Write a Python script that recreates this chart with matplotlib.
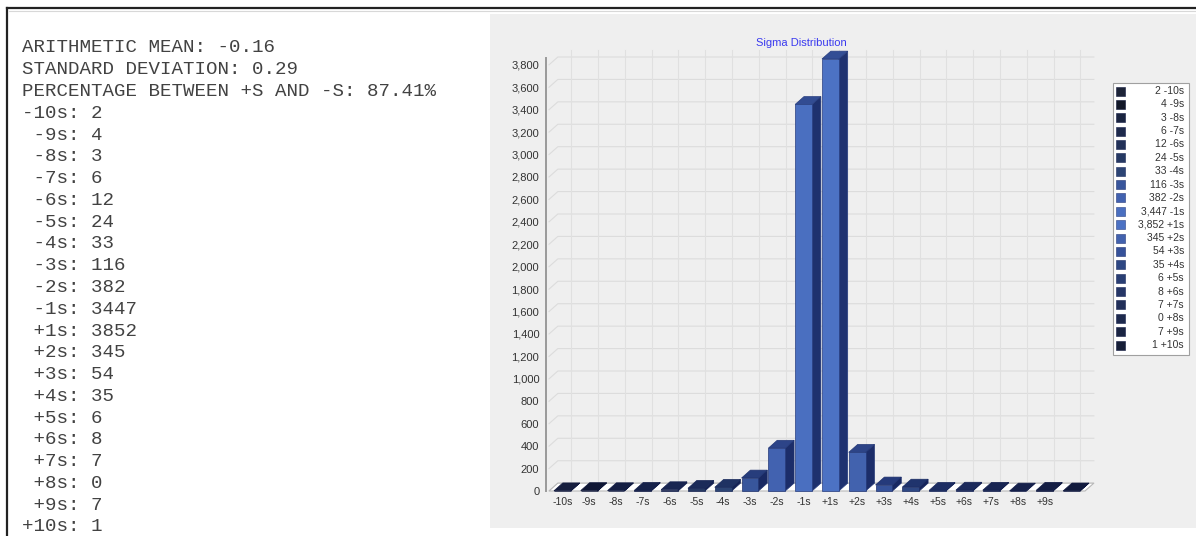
import matplotlib.pyplot as plt
import matplotlib.colors as mcolors
from matplotlib.patches import Polygon, Rectangle
from matplotlib.lines import Line2D

# summary statistics shown in the text panel
mean_value = -0.16
std_value = 0.29
pct_within = 87.41

# sigma bins and their counts
sigma_labels = ["-10s", "-9s", "-8s", "-7s", "-6s", "-5s", "-4s", "-3s", "-2s", "-1s",
                "+1s", "+2s", "+3s", "+4s", "+5s", "+6s", "+7s", "+8s", "+9s", "+10s"]
sigma_counts = [2, 4, 3, 6, 12, 24, 33, 116, 382, 3447,
                3852, 345, 54, 35, 6, 8, 7, 0, 7, 1]
bar_colors = ["#1d2438", "#121828", "#1a2440", "#1e2a4c", "#223158", "#263963",
              "#2c4474", "#38569c", "#4262b0", "#4a6fc0", "#4c72c4", "#4262ae",
              "#36529a", "#2e4783", "#293e73", "#253666", "#212f59", "#1d294d",
              "#1a2442", "#161e37"]
y_ticks = list(range(0, 3801, 200))

W, H = 1196, 536
fig = plt.figure(figsize=(W / 100, H / 100), dpi=100)
fig.patch.set_facecolor("white")


def fx(x):
    return x / W


def fy(y):
    return 1 - y / H


# outer frame (top and left edge)
fig.add_artist(Line2D([fx(7), 1], [fy(8), fy(8)], color="#222222", lw=1.6))
fig.add_artist(Line2D([fx(7), fx(7)], [fy(8), 0], color="#222222", lw=1.6))
fig.add_artist(Line2D([fx(9), 1], [fy(10.5), fy(10.5)], color="#d8d8d8", lw=0.8))

# text panel
lines = [f"ARITHMETIC MEAN: {mean_value:.2f}",
         f"STANDARD DEVIATION: {std_value:.2f}",
         f"PERCENTAGE BETWEEN +S AND -S: {pct_within:.2f}%"]
lines += [f"{lab:>4}: {cnt}" for lab, cnt in zip(sigma_labels, sigma_counts)]
for k, s in enumerate(lines):
    fig.text(fx(22), fy(48 + k * 21.77), s, family="Liberation Mono",
             fontsize=13.8, color="#424242", va="center", ha="left")

# chart panel background
fig.add_artist(Rectangle((fx(490), fy(528)), 1 - fx(490), fy(14) - fy(528),
                         transform=fig.transFigure, facecolor="#efefef",
                         edgecolor="none", zorder=-5))

fig.text(fx(801), fy(43), "Sigma Distribution", family="Liberation Sans",
         fontsize=8, color="#3a3af0", ha="center", va="center")

# axes laid out so one slot is ~26.8 px and 0..3932 spans 491..50 px
px_per_unit = 0.11215
ymax = (491 - 50) / px_per_unit
ax = fig.add_axes([fx(549), fy(491), (1085 - 549) / W, (491 - 50) / H])
ax.set_xlim(0, len(sigma_counts))
ax.set_ylim(0, ymax)
ax.patch.set_visible(False)
for side in ["top", "right", "bottom"]:
    ax.spines[side].set_visible(False)
ax.spines["left"].set_color("#999999")
ax.spines["left"].set_linewidth(1.4)
ax.spines["left"].set_position(("outward", 2))
ax.spines["left"].set_bounds(0, 3860)

ax.set_yticks(y_ticks)
ax.set_yticklabels([f"{v:,}" for v in y_ticks], family="Liberation Sans")
ax.tick_params(axis="y", length=0, pad=5, labelsize=8, labelcolor="#333333")
n = len(sigma_counts)
ax.set_xticks([i + 0.5 for i in range(n)])
# the last category label gets dropped by the chart for lack of room
ax.set_xticklabels(sigma_labels[:-1] + [""], family="Liberation Sans")
ax.tick_params(axis="x", length=0, pad=4.5, labelsize=7.5, labelcolor="#333333")

# depth offsets of the pseudo-3D look
dx = 0.33
dy = 70

# back wall grid with slanted side-wall segment
for v in y_ticks:
    ax.plot([0, dx, n + dx], [v, v + dy, v + dy], color="#dcdcdc", lw=0.8,
            zorder=0, clip_on=False)
for i in range(n):
    ax.plot([i + 0.5 + dx] * 2, [dy, ymax], color="#e0e0e0", lw=0.8,
            zorder=0, clip_on=False)

# floor
ax.add_patch(Polygon([(0, 0), (n, 0), (n + dx, dy), (dx, dy)], closed=True,
                     facecolor="white", edgecolor="#b8b8b8", lw=0.8, zorder=1,
                     clip_on=False))


def mix(c, other, f):
    a = mcolors.to_rgb(c)
    b = mcolors.to_rgb(other)
    return tuple(a[j] * (1 - f) + b[j] * f for j in range(3))


navy = "#0a1448"
bw = 0.63
for i, (v, c) in enumerate(zip(sigma_counts, bar_colors)):
    x0 = i + 0.5 - bw / 2
    x1 = x0 + bw
    edge = mix(c, navy, 0.55)
    ax.add_patch(Polygon([(x1, 0), (x1 + dx, dy), (x1 + dx, v + dy), (x1, v)],
                         closed=True, facecolor=mix(c, navy, 0.68), edgecolor=edge,
                         lw=0.5, zorder=2, clip_on=False))
    ax.add_patch(Polygon([(x0, v), (x1, v), (x1 + dx, v + dy), (x0 + dx, v + dy)],
                         closed=True, facecolor=mix(c, navy, 0.38), edgecolor=edge,
                         lw=0.5, zorder=2, clip_on=False))
    ax.add_patch(Rectangle((x0, 0), bw, v, facecolor=c, edgecolor=edge,
                           lw=0.5, zorder=3, clip_on=False))

# legend box on the right
fig.add_artist(Rectangle((fx(1113), fy(355)), fx(1189) - fx(1113), fy(83) - fy(355),
                         transform=fig.transFigure, facecolor="white",
                         edgecolor="#a0a0a0", lw=0.8))
for k, (lab, cnt, c) in enumerate(zip(sigma_labels, sigma_counts, bar_colors)):
    yc = 91 + k * 13.37
    fig.add_artist(Rectangle((fx(1116), fy(yc + 4.5)), fx(9), 9 / H,
                             transform=fig.transFigure, facecolor=c,
                             edgecolor=mix(c, navy, 0.5), lw=0.4))
    fig.text(fx(1184), fy(yc), f"{cnt:,} {lab}", family="Liberation Sans",
             fontsize=7.5, color="#333333", ha="right", va="center")

fig.savefig("out.png", dpi=100)
